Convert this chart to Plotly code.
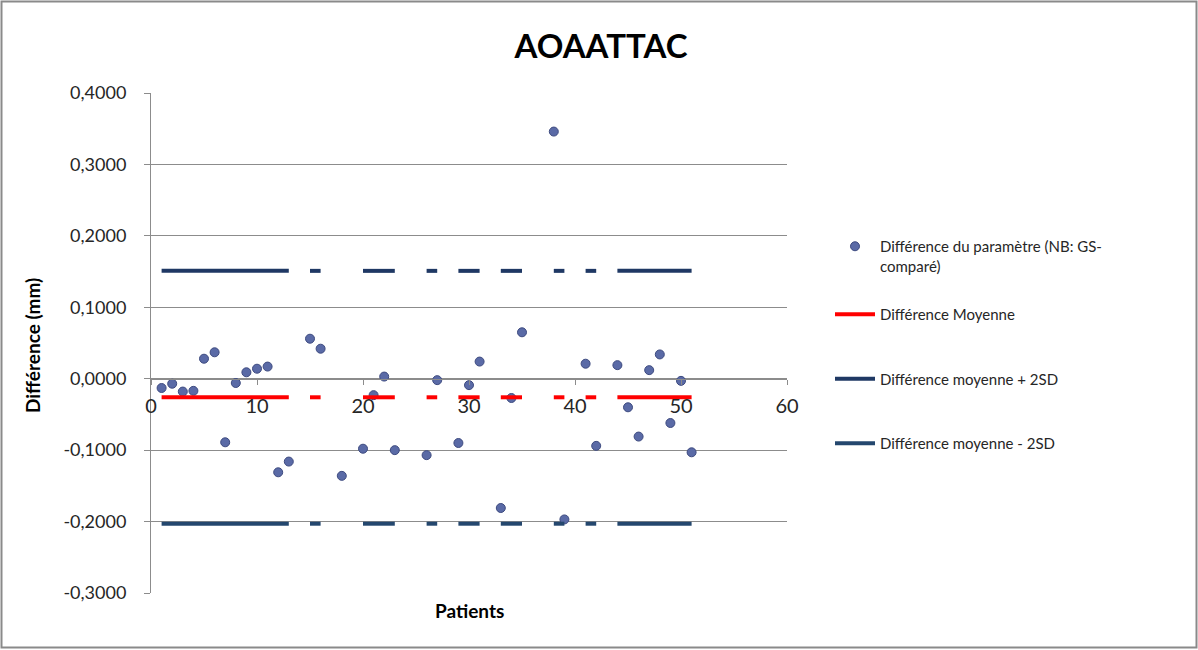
import plotly.graph_objects as go

# ---- data ----
patients = list(range(1, 52))
differences = [
    -0.013, -0.007, -0.018, -0.017, 0.028, 0.037, -0.089, -0.006, 0.009, 0.014,
    0.017, -0.131, -0.116, None, 0.056, 0.042, None, -0.136, None, -0.098,
    -0.023, 0.003, -0.100, None, None, -0.107, -0.002, None, -0.090, -0.009,
    0.024, None, -0.181, -0.027, 0.065, None, None, 0.346, -0.197, None,
    0.021, -0.094, None, 0.019, -0.040, -0.081, 0.012, 0.034, -0.062, -0.003,
    -0.103,
]
mean_difference = -0.026
upper_limit = 0.151
lower_limit = -0.203

y_tickvals = [-0.3, -0.2, -0.1, 0.0, 0.1, 0.2, 0.3, 0.4]
y_ticktext = ["-0,3000", "-0,2000", "-0,1000", "0,0000", "0,1000", "0,2000", "0,3000", "0,4000"]
x_tickvals = [0, 10, 20, 30, 40, 50, 60]
x_ticktext = ["0", "10", "20", "30", "40", "50", "60"]

title_text = "AOAATTAC"
x_title = "Patients"
y_title = "Différence (mm)"
names = [
    "Différence du paramètre (NB: GS-<br>comparé)",
    "Différence Moyenne",
    "Différence moyenne + 2SD",
    "Différence moyenne - 2SD",
]

mean_line = [mean_difference if d is not None else None for d in differences]
upper_line = [upper_limit if d is not None else None for d in differences]
lower_line = [lower_limit if d is not None else None for d in differences]

FONT = "Lato"

fig = go.Figure()
fig.add_trace(go.Scatter(
    x=patients, y=differences, mode="markers", name=names[0], legend="legend",
    marker=dict(size=9, color="#5a6aa6", line=dict(color="#3e4b80", width=1)),
))
fig.add_trace(go.Scatter(
    x=patients, y=mean_line, mode="lines", name=names[1], legend="legend2", legendgroup="b",
    line=dict(color="#ff0000", width=4), connectgaps=False,
))
fig.add_trace(go.Scatter(
    x=patients, y=upper_line, mode="lines", name=names[2], legend="legend2", legendgroup="c",
    line=dict(color="#1f3864", width=4), connectgaps=False,
))
fig.add_trace(go.Scatter(
    x=patients, y=lower_line, mode="lines", name=names[3], legend="legend2", legendgroup="d",
    line=dict(color="#24476e", width=4), connectgaps=False,
))

L, R, T, B = 151, 411, 93, 57
W, H = 1198, 650
pw, ph = W - L - R, H - T - B

legend_font = dict(size=15, family=FONT, color="#262626")

fig.update_layout(
    width=W, height=H,
    margin=dict(l=L, r=R, t=T, b=B),
    paper_bgcolor="white", plot_bgcolor="white",
    font=dict(family=FONT, color="#262626"),
    title=dict(text=f"<b>{title_text}</b>", x=(601 - L) / pw, xref="paper", xanchor="center",
               y=1 - 46 / H, yanchor="middle", font=dict(size=33, family=FONT, color="#000000")),
    showlegend=True,
    legend=dict(x=(830 - L) / pw, xanchor="left", y=(593 - 230) / ph, yanchor="top",
                font=legend_font, valign="top", bgcolor="rgba(0,0,0,0)", itemwidth=40),
    legend2=dict(x=(830 - L) / pw, xanchor="left", y=(593 - 298) / ph, yanchor="top",
                 font=legend_font, valign="middle", bgcolor="rgba(0,0,0,0)", itemwidth=40,
                 tracegroupgap=42, yref="paper"),
    xaxis=dict(range=[0, 60], tickvals=x_tickvals, ticktext=x_ticktext,
               showgrid=False, zeroline=False, showline=True, linecolor="#8c8c8c", linewidth=1,
               ticks="outside", ticklen=5, tickcolor="#8c8c8c",
               anchor="free", position=0.3 / 0.7,
               tickfont=dict(size=20, family=FONT, color="#262626"), ticklabelstandoff=4),
    yaxis=dict(range=[-0.3, 0.4], tickvals=y_tickvals, ticktext=y_ticktext,
               showgrid=True, gridcolor="#8c8c8c", gridwidth=1, zeroline=False,
               showline=True, linecolor="#8c8c8c", linewidth=1,
               ticks="outside", ticklen=6, tickcolor="#8c8c8c",
               tickfont=dict(size=18, family=FONT, color="#262626"), ticklabelstandoff=14),
    annotations=[
        dict(text=f"<b>{x_title}</b>", xref="paper", yref="paper", x=(469 - L) / pw, y=-(610 - 593) / ph,
             xanchor="center", yanchor="middle", showarrow=False,
             font=dict(size=19, family=FONT, color="#000000")),
        dict(text=f"<b>{y_title}</b>", xref="paper", yref="paper", x=(32 - L) / pw, y=(593 - 346) / ph,
             xanchor="center", yanchor="middle", showarrow=False, textangle=-90,
             font=dict(size=19, family=FONT, color="#000000")),
    ],
    shapes=[
        dict(type="rect", xref="paper", yref="paper",
             x0=(1.5 - L) / pw, x1=(1196.5 - L) / pw,
             y0=(593 - 647.5) / ph, y1=(593 - 1.5) / ph,
             line=dict(color="#8a8a8a", width=2), fillcolor="rgba(0,0,0,0)", layer="below"),
    ],
)

fig.write_html("out.html", config={"displayModeBar": False},
               post_script="document.body.style.margin='0';document.body.style.overflow='hidden';")
